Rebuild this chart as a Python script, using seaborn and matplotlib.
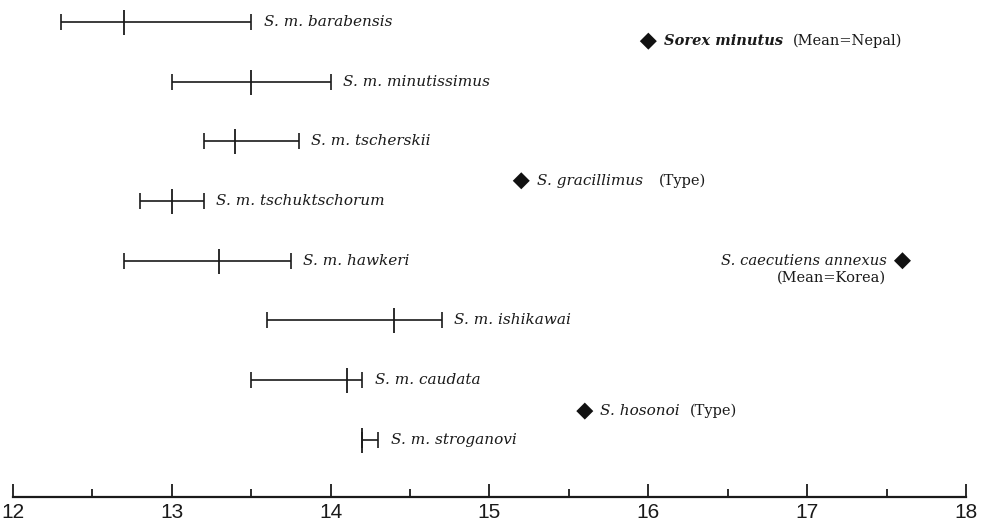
import matplotlib
matplotlib.use('Agg')
import matplotlib.pyplot as plt
import pandas as pd
import seaborn as sns

# ranges per subspecies (min, mean, max)
subspecies = ['S. m. barabensis', 'S. m. minutissimus', 'S. m. tscherskii',
              'S. m. tschuktschorum', 'S. m. hawkeri', 'S. m. ishikawai',
              'S. m. caudata', 'S. m. stroganovi']
range_min = [12.3, 13.0, 13.2, 12.8, 12.7, 13.6, 13.5, 14.2]
range_mean = [12.7, 13.5, 13.4, 13.0, 13.3, 14.4, 14.1, 14.2]
range_max = [13.5, 14.0, 13.8, 13.2, 13.75, 14.7, 14.2, 14.3]

# single reference values
ref_names = ['Sorex minutus', 'S. gracillimus', 'S. caecutiens annexus', 'S. hosonoi']
ref_notes = ['(Mean=Nepal)', '(Type)', '(Mean=Korea)', '(Type)']
ref_values = [16.0, 15.2, 17.6, 15.6]
ref_rows = [0.32, 2.66, 4.0, 6.52]

sns.set_style('white')
plt.rcParams['font.family'] = ['DejaVu Serif', 'DejaVu Sans']

rows = list(range(len(subspecies)))
ranges = pd.DataFrame({'name': subspecies, 'lo': range_min, 'mean': range_mean,
                       'hi': range_max, 'row': rows})
refs = pd.DataFrame({'name': ref_names, 'note': ref_notes,
                     'value': ref_values, 'row': ref_rows})

ink = '#1a1a1a'
fig = plt.figure(figsize=(9.81, 5.23), dpi=100)
ax = fig.add_axes([13 / 981, 26 / 523, 953 / 981, 497 / 523])

# range bars with end caps
ax.errorbar(ranges['mean'], ranges['row'],
            xerr=[ranges['mean'] - ranges['lo'], ranges['hi'] - ranges['mean']],
            fmt='none', ecolor=ink, elinewidth=1.2, capsize=6, capthick=1.2)
# mean ticks
sns.scatterplot(data=ranges, x='mean', y='row', marker='|', s=324, color=ink,
                linewidth=1.3, ax=ax, legend=False)
# reference diamonds
sns.scatterplot(data=refs, x='value', y='row', marker='D', s=75, color='#111111',
                edgecolor='none', ax=ax, legend=False)

for _, r in ranges.iterrows():
    ax.annotate(r['name'], xy=(r['hi'], r['row']), xytext=(9, 0), textcoords='offset points',
                va='center', ha='left', style='italic', fontsize=11, color=ink)

for _, r in refs.iterrows():
    if r['name'].startswith('S. caecutiens'):
        t = ax.annotate(r['name'], xy=(r['value'], r['row']), xytext=(-11, 0),
                        textcoords='offset points', va='center', ha='right',
                        style='italic', fontsize=10.6, color=ink)
        ax.annotate(r['note'], xy=(1, 0), xycoords=t, xytext=(-1, -2),
                    textcoords='offset points', va='top', ha='right',
                    fontsize=10.5, color=ink)
    else:
        bold = r['name'] == 'Sorex minutus'
        t = ax.annotate(r['name'], xy=(r['value'], r['row']), xytext=(11, 0),
                        textcoords='offset points', va='center', ha='left',
                        style='italic', fontsize=10.5 if bold else 11, color=ink,
                        weight='bold' if bold else 'normal')
        gap = 12 if r['name'] == 'S. gracillimus' else 7
        ax.annotate(r['note'], xy=(1, 0.5), xycoords=t, xytext=(gap, 0),
                    textcoords='offset points', va='center', ha='left',
                    fontsize=10.5, color=ink)

ax.set_xlim(12, 18)
ax.set_ylim(7.96, -0.37)
ax.set_xticks(range(12, 19))
ax.set_xticks([12.5 + i for i in range(6)], minor=True)
ax.set_yticks([])
ax.set_xlabel('')
ax.set_ylabel('')
for side in ['top', 'left', 'right']:
    ax.spines[side].set_visible(False)
ax.spines['bottom'].set_linewidth(1.6)
ax.spines['bottom'].set_color(ink)
ax.tick_params(axis='x', which='major', direction='in', length=9.5, width=1.3,
               color=ink, pad=4, bottom=True)
ax.tick_params(axis='x', which='minor', direction='in', length=6, width=1.3,
               color=ink, bottom=True)
for lbl in ax.get_xticklabels():
    lbl.set_family(['Liberation Sans', 'DejaVu Sans'])
    lbl.set_fontsize(15)
    lbl.set_color(ink)
for c in ax.collections:
    c.set_clip_on(False)

fig.savefig('out.png', dpi=100)
